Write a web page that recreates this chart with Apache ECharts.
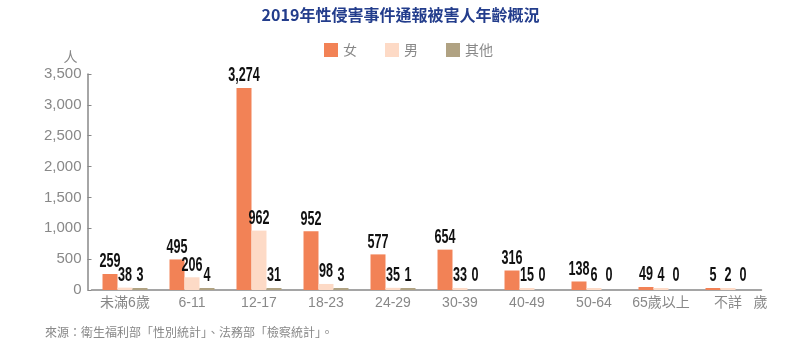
<!DOCTYPE html>
<html><head><meta charset="utf-8">
<script src="https://cdn.jsdelivr.net/npm/echarts@6/dist/echarts.min.js"></script>
<style>html,body{margin:0;padding:0;background:#fff}#c{width:801px;height:348px}</style>
</head><body><div id="c"></div>
<script>
const titleText = '2019年性侵害事件通報被害人年齡概況';
const sourceText = '來源：衛生福利部「性別統計」、法務部「檢察統計」。';
const categories = ['未滿6歲','6-11','12-17','18-23','24-29','30-39','40-49','50-64','65歲以上','不詳'];
const female = [259, 495, 3274, 952, 577, 654, 316, 138, 49, 5];
const male   = [38, 206, 962, 98, 35, 33, 15, 6, 4, 2];
const other  = [3, 4, 31, 3, 1, 0, 0, 0, 0, 0];
const seriesNames = ['女','男','其他'];
const colors = ['#F28256','#FDDAC6','#B0A282'];
const allData = [female, male, other];

const thousands = v => String(v).replace(/\B(?=(\d{3})+(?!\d))/g, ',');
const BAR_W = 15;
const mkBar = (k) => ({
  name: seriesNames[k], type: 'bar',
  data: allData[k].map(v => v === 0 ? { value: v, itemStyle: { color: 'transparent' } } : v),
  barWidth: BAR_W, barGap: '0%', barMinHeight: 2,
  itemStyle: { color: colors[k] }, emphasis: { disabled: true }
});
const mkLabel = (k) => ({
  name: 'lbl' + k, type: 'custom', z: 5, clip: false,
  data: allData[k].map((v, i) => [i, v]),
  encode: { x: 0, y: 1 },
  renderItem: (params, api) => {
    const i = api.value(0), v = api.value(1);
    const p = api.coord([i, v]);
    const z0 = api.coord([i, 0]);
    const x = p[0] + (k - 1) * BAR_W;
    const y = Math.min(p[1], z0[1] - 2) - 2;
    return {
      type: 'text', x, y, scaleX: 0.6, scaleY: 1,
      style: {
        text: thousands(v), fill: '#111', align: 'center', verticalAlign: 'bottom',
        fontSize: 21, fontWeight: 'bold', fontFamily: '"Liberation Sans", Arial, sans-serif'
      }
    };
  }
});
const chart = echarts.init(document.getElementById('c'));
chart.setOption({
  animation: false,
  textStyle: { fontFamily: '"Liberation Sans","Noto Sans CJK TC",sans-serif' },
  title: {
    text: titleText, left: 'center', top: 2,
    textStyle: { color: '#233d8c', fontSize: 16, fontWeight: 'bold', fontFamily: '"Noto Sans CJK TC",sans-serif' }
  },
  legend: {
    left: 319, top: 38, itemWidth: 14, itemHeight: 14, itemGap: 28,
    icon: 'rect', data: seriesNames,
    textStyle: { color: '#888', fontSize: 14, fontFamily: '"Noto Sans CJK TC",sans-serif' }
  },
  grid: { left: 91.5, right: 39.5, top: 74, bottom: 58 },
  xAxis: {
    type: 'category', data: categories,
    axisLine: { lineStyle: { color: '#888', width: 1.5 } },
    axisTick: { show: false },
    axisLabel: { color: '#888', fontSize: 14, margin: 6, interval: 0 },
    name: '歲', nameLocation: 'end', nameGap: 6,
    nameTextStyle: { color: '#888', fontSize: 14, align: 'right', verticalAlign: 'top', padding: [6,0,0,0] }
  },
  yAxis: {
    type: 'value', min: 0, max: 3500, interval: 500, offset: 4,
    axisLine: { show: true, lineStyle: { color: '#888', width: 1.5 } },
    axisTick: { show: true, inside: true, length: 4, lineStyle: { color: '#888' } },
    splitLine: { show: false },
    axisLabel: { color: '#888', fontSize: 15, margin: 6, formatter: v => thousands(v) },
    name: '人', nameLocation: 'end', nameGap: 9,
    nameTextStyle: { color: '#888', fontSize: 14, align: 'center', padding: [0,34,0,0] }
  },
  graphic: [{
    type: 'text', left: 45, top: 326,
    style: { text: sourceText, fill: '#888', fontSize: 12, fontFamily: '"Noto Sans CJK TC",sans-serif' }
  }],
  series: [mkBar(0), mkBar(1), mkBar(2), mkLabel(0), mkLabel(1), mkLabel(2)]
});
</script></body></html>
